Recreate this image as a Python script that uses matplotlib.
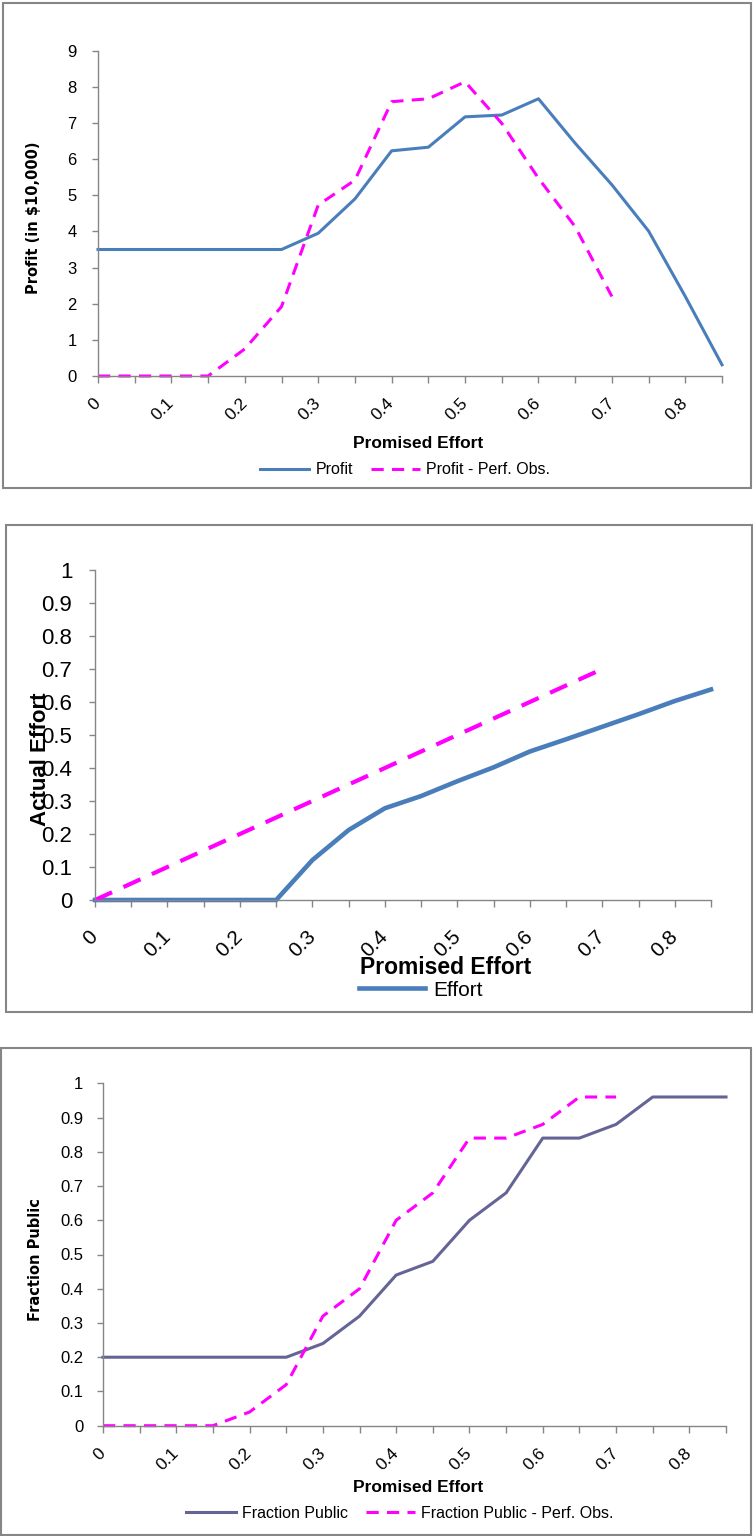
import matplotlib
matplotlib.use("Agg")
import matplotlib.pyplot as plt
from matplotlib.patches import Rectangle

# Promised effort categories (x axis), one label every other category
effort_cats = [0, 0.05, 0.1, 0.15, 0.2, 0.25, 0.3, 0.35, 0.4, 0.45,
               0.5, 0.55, 0.6, 0.65, 0.7, 0.75, 0.8, 0.85]
tick_labels = ['0', '', '0.1', '', '0.2', '', '0.3', '', '0.4', '',
               '0.5', '', '0.6', '', '0.7', '', '0.8', '']

# Panel 1: profit (in $10,000)
profit = [3.5, 3.5, 3.5, 3.5, 3.5, 3.5, 3.95, 4.9, 6.23, 6.33,
          7.17, 7.22, 7.67, 6.44, 5.29, 4.01, 2.2, 0.31]
profit_obs = [0, 0, 0, 0, 0.75, 1.92, 4.73, 5.42, 7.59, 7.67,
              8.14, 6.99, 5.47, 4.13, 2.2]

# Panel 2: actual effort
actual_effort = [0, 0, 0, 0, 0, 0, 0.121, 0.212, 0.278, 0.315,
                 0.36, 0.402, 0.45, 0.487, 0.525, 0.563, 0.603, 0.638]
actual_effort_obs = [0, 0.05, 0.1, 0.15, 0.2, 0.25, 0.3, 0.35, 0.4, 0.45,
                     0.5, 0.55, 0.6, 0.65, 0.7]

# Panel 3: fraction public
frac_public = [0.2, 0.2, 0.2, 0.2, 0.2, 0.2, 0.24, 0.32, 0.44, 0.48,
               0.6, 0.68, 0.84, 0.84, 0.88, 0.96, 0.96, 0.96]
frac_public_obs = [0, 0, 0, 0, 0.04, 0.12, 0.32, 0.4, 0.6, 0.68,
                   0.84, 0.84, 0.88, 0.96, 0.96]

W, H = 753, 1536
NARROW = ['Liberation Sans Narrow', 'Liberation Sans', 'DejaVu Sans']
BLUE = '#4a7ebb'
MAGENTA = '#ff00ff'
PURPLE = '#646496'
GRAY = '#868686'

fig = plt.figure(figsize=(W / 100, H / 100), dpi=100)


def px_rect(x0, y0, x1, y1):
    # pixel box (top-left origin) -> figure fraction rect
    return [x0 / W, 1 - y1 / H, (x1 - x0) / W, (y1 - y0) / H]


def frame(x0, y0, x1, y1):
    fig.patches.append(Rectangle((x0 / W, 1 - y1 / H), (x1 - x0) / W, (y1 - y0) / H,
                                 transform=fig.transFigure, fill=False,
                                 edgecolor=GRAY, linewidth=1.5))


def setup_axes(rect, ymax, ystep, xsize, ysize, xpad, ypad):
    ax = fig.add_axes(rect)
    ax.set_xlim(0, 0.85)
    ax.set_ylim(0, ymax)
    ax.set_xticks(effort_cats)
    ax.set_xticklabels(tick_labels, rotation=45, ha='right', va='center',
                       rotation_mode='anchor', family=NARROW, fontsize=xsize)
    n = int(round(ymax / ystep))
    yt = [i * ystep for i in range(n + 1)]
    ax.set_yticks(yt)
    ax.set_yticklabels(['%g' % round(v, 2) for v in yt], family=NARROW, fontsize=ysize)
    for s in ['top', 'right']:
        ax.spines[s].set_visible(False)
    for s in ['left', 'bottom']:
        ax.spines[s].set_color(GRAY)
        ax.spines[s].set_linewidth(1.0)
    ax.tick_params(axis='x', direction='out', length=5, width=1, color=GRAY, pad=xpad)
    ax.tick_params(axis='y', direction='out', length=4.3, width=1, color=GRAY, pad=ypad)
    ax.patch.set_alpha(0)
    return ax


# ---------------- Panel 1 ----------------
frame(3, 3, 751, 488)
ax1 = setup_axes(px_rect(98, 50.7, 722, 376), 9, 1, 12.5, 12, 13, 11)
ax1.plot(effort_cats, profit, color=BLUE, lw=2.2, label='Profit', clip_on=False)
ax1.plot(effort_cats[:len(profit_obs)], profit_obs, color=MAGENTA, lw=2.2,
         dashes=(4, 2.7), label='Profit - Perf. Obs.', clip_on=False)
fig.text(34 / W, 1 - 218 / H, 'Profit (in $10,000)', rotation=90, ha='center',
         va='center', fontsize=10.5, fontweight='bold', family='DejaVu Sans')
fig.text(418 / W, 1 - 443 / H, 'Promised Effort', ha='center', va='center',
         fontsize=12.5, fontweight='bold', family=NARROW)
ax1.legend(loc='center', bbox_to_anchor=(405 / W, 1 - 470 / H), bbox_transform=fig.transFigure,
           ncol=2, frameon=False, prop={'family': NARROW, 'size': 11.5},
           handlelength=3.1, handletextpad=0.4, columnspacing=1.1)

# ---------------- Panel 2 ----------------
frame(6, 525, 752, 1012)
ax2 = setup_axes(px_rect(95, 570, 711, 900), 1, 0.1, 15, 16, 19, 12)
ax2.plot(effort_cats, actual_effort, color=BLUE, lw=3.3, label='Effort', clip_on=False)
ax2.plot(effort_cats[:len(actual_effort_obs)], actual_effort_obs, color=MAGENTA, lw=3.0,
         dashes=(4.5, 3), label='_nolegend_', clip_on=False)
# the original chart puts this label right on top of the tick labels
fig.text(41 / W, 1 - 759 / H, 'Actual Effort', rotation=90, ha='center', va='center',
         fontsize=16, fontweight='bold', family=NARROW)
fig.text(446 / W, 1 - 968 / H, 'Promised Effort', ha='center', va='center',
         fontsize=16.5, fontweight='bold', family=NARROW)
ax2.legend(loc='center', bbox_to_anchor=(421 / W, 1 - 990 / H), bbox_transform=fig.transFigure,
           frameon=False, prop={'family': NARROW, 'size': 15},
           handlelength=3.2, handletextpad=0.4)

# ---------------- Panel 3 ----------------
frame(1, 1048, 751, 1535)
ax3 = setup_axes(px_rect(103, 1083.3, 726, 1425.7), 1, 0.1, 12.5, 12, 13, 10)
ax3.plot(effort_cats, frac_public, color=PURPLE, lw=2.2, label='Fraction Public', clip_on=False)
ax3.plot(effort_cats[:len(frac_public_obs)], frac_public_obs, color=MAGENTA, lw=2.2,
         dashes=(4, 2.7), label='Fraction Public - Perf. Obs.', clip_on=False)
fig.text(36 / W, 1 - 1260 / H, 'Fraction Public', rotation=90, ha='center',
         va='center', fontsize=10.5, fontweight='bold', family='DejaVu Sans')
fig.text(418 / W, 1 - 1487 / H, 'Promised Effort', ha='center', va='center',
         fontsize=12.5, fontweight='bold', family=NARROW)
ax3.legend(loc='center', bbox_to_anchor=(400 / W, 1 - 1513 / H), bbox_transform=fig.transFigure,
           ncol=2, frameon=False, prop={'family': NARROW, 'size': 11.5},
           handlelength=3.1, handletextpad=0.4, columnspacing=1.1)

fig.savefig('out.png', dpi=100)
